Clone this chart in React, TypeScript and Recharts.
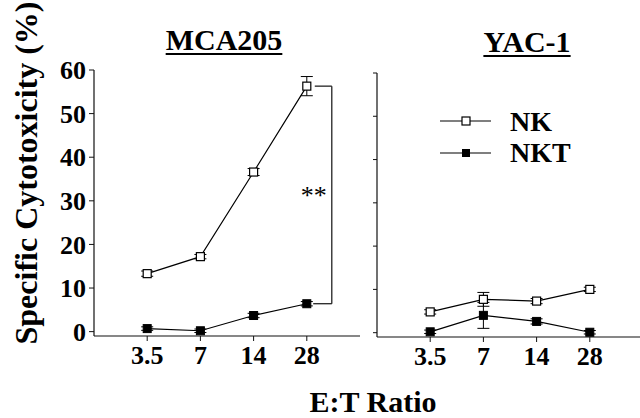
import {
  LineChart,
  Line,
  XAxis,
  YAxis,
  ErrorBar,
  ReferenceLine,
} from "recharts";

const ratioLabels = ["3.5", "7", "14", "28"];
const yTicks = [0, 10, 20, 30, 40, 50, 60];

// MCA205 targets
const mcaNK = [13.3, 17.2, 36.6, 56.3];
const mcaNKErr = [0.6, 0.5, 0.8, 2.2];
const mcaNKT = [0.7, 0.2, 3.7, 6.4];
const mcaNKTErr = [0.4, 0.4, 0.5, 0.5];

// YAC-1 targets
const yacNK = [4.8, 7.7, 7.3, 10.0];
const yacNKErr = [0.5, 1.6, 0.6, 0.5];
const yacNKT = [0.2, 4.0, 2.6, 0.1];
const yacNKTErr = [0.4, 3.0, 0.6, 0.4];

const serif = "'Liberation Serif', 'DejaVu Serif', serif";

const build = (nk: number[], nkErr: number[], nkt: number[], nktErr: number[]) =>
  ratioLabels.map((r, i) => ({
    i,
    ratio: r,
    nk: nk[i],
    nkErr: nkErr[i],
    nkt: nkt[i],
    nktErr: nktErr[i],
  }));

const mcaData = build(mcaNK, mcaNKErr, mcaNKT, mcaNKTErr);
const yacData = build(yacNK, yacNKErr, yacNKT, yacNKTErr);

const OpenSquare = (props: any) => {
  const { cx, cy, index } = props;
  if (cx == null || cy == null) return null;
  return (
    <rect key={`o${index}`} x={cx - 4} y={cy - 4} width={8} height={8}
      fill="#fff" stroke="#000" strokeWidth={1.2} />
  );
};

const FilledSquare = (props: any) => {
  const { cx, cy, index } = props;
  if (cx == null || cy == null) return null;
  return (
    <rect key={`f${index}`} x={cx - 4} y={cy - 4} width={8} height={8}
      fill="#000" stroke="#000" strokeWidth={1} />
  );
};

const tickStyle = { fontFamily: serif, fontWeight: "bold", fontSize: 26, fill: "#000" };
const axisLine = { stroke: "#111", strokeWidth: 1.2 };

const panelLines = () => [
  <Line key="nk" dataKey="nk" stroke="#000" strokeWidth={1.2} dot={<OpenSquare />}
    isAnimationActive={false}>
    <ErrorBar dataKey="nkErr" width={6} stroke="#000" strokeWidth={1} />
  </Line>,
  <Line key="nkt" dataKey="nkt" stroke="#000" strokeWidth={1.2} dot={<FilledSquare />}
    isAnimationActive={false}>
    <ErrorBar dataKey="nktErr" width={6} stroke="#000" strokeWidth={1} />
  </Line>,
];

const xAxis = (
  <XAxis type="number" dataKey="i" domain={[-1, 4]} ticks={[0, 1, 2, 3]}
    tickFormatter={(v: number) => ratioLabels[v] ?? ""} height={40}
    tickSize={5} tickMargin={5} tick={tickStyle}
    axisLine={axisLine} tickLine={{ stroke: "#111" }} />
);

const textStyle = (left: number, top: number, size: number): React.CSSProperties => ({
  position: "absolute",
  left,
  top,
  transform: "translateX(-50%)",
  fontFamily: serif,
  fontWeight: "bold",
  fontSize: size,
  lineHeight: 1,
  whiteSpace: "nowrap",
  color: "#000",
});

const titleStyle = (left: number, top: number): React.CSSProperties => ({
  ...textStyle(left, top, 30),
  textDecoration: "underline",
  textUnderlineOffset: 3,
  textDecorationThickness: 2,
});

export default function App() {
  return (
    <div
      style={{
        position: "absolute",
        left: 0,
        top: 0,
        width: 640,
        height: 418,
        overflow: "hidden",
        background: "#fff",
      }}
    >
      <div style={titleStyle(224, 25)}>MCA205</div>
      <div style={titleStyle(527, 27)}>YAC-1</div>

      <div
        style={{
          ...textStyle(26, 173, 32),
          transform: "translate(-50%, -50%) rotate(-90deg)",
        }}
      >
        Specific Cytotoxicity (%)
      </div>

      <div style={textStyle(373, 387, 30)}>E:T Ratio</div>

      <div style={{ position: "absolute", left: 0, top: 0 }}>
        <LineChart width={365} height={418} data={mcaData}
          margin={{ top: 70, right: 5, left: 0, bottom: 42 }}>
          {xAxis}
          <YAxis type="number" domain={[-1, 60]} ticks={yTicks} width={94}
            tickSize={5} tickMargin={3} tick={tickStyle}
            axisLine={axisLine} tickLine={{ stroke: "#111" }} />
          {panelLines()}
          <ReferenceLine ifOverflow="visible" stroke="#111" strokeWidth={1.2}
            segment={[{ x: 3.15, y: mcaNK[3] }, { x: 3.47, y: mcaNK[3] }]} />
          <ReferenceLine ifOverflow="visible" stroke="#111" strokeWidth={1.2}
            segment={[{ x: 3.47, y: mcaNK[3] }, { x: 3.47, y: mcaNKT[3] }]}
            label={{ value: "**", position: "left", offset: 5, fontFamily: serif,
              fontSize: 26, fill: "#000" }} />
          <ReferenceLine ifOverflow="visible" stroke="#111" strokeWidth={1.2}
            segment={[{ x: 3.12, y: mcaNKT[3] }, { x: 3.47, y: mcaNKT[3] }]} />
        </LineChart>
      </div>

      <div style={{ position: "absolute", left: 340, top: 0 }}>
        <LineChart width={303} height={418} data={yacData}
          margin={{ top: 73, right: 0, left: 0, bottom: 41 }}>
          {xAxis}
          <YAxis type="number" domain={[-1, 60]} ticks={yTicks} width={37}
            tickSize={4} tickFormatter={() => ""}
            axisLine={axisLine} tickLine={{ stroke: "#111" }} />
          {panelLines()}
        </LineChart>
      </div>

      <svg width={200} height={70} style={{ position: "absolute", left: 440, top: 100 }}>
        <line x1={0} y1={21} x2={51} y2={21} stroke="#000" strokeWidth={1.2} />
        <rect x={22} y={17} width={8} height={8} fill="#fff" stroke="#000" strokeWidth={1.2} />
        <text x={70} y={31} fontFamily={serif} fontWeight="bold" fontSize={28} fill="#000">NK</text>
        <line x1={0} y1={53} x2={51} y2={53} stroke="#000" strokeWidth={1.2} />
        <rect x={22} y={49} width={8} height={8} fill="#000" />
        <text x={70} y={62} fontFamily={serif} fontWeight="bold" fontSize={28} fill="#000">NKT</text>
      </svg>
    </div>
  );
}
